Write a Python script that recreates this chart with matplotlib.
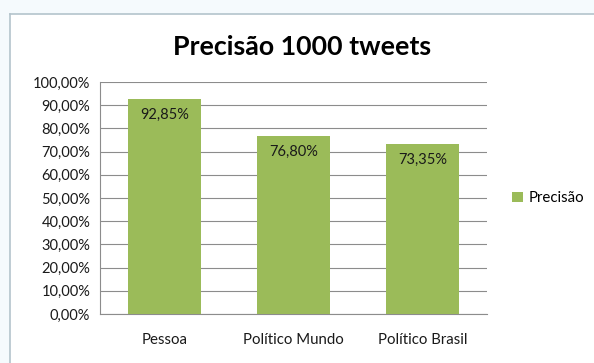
import matplotlib.pyplot as plt
from matplotlib.lines import Line2D
from matplotlib.patches import Rectangle

categorias = ["Pessoa", "Político Mundo", "Político Brasil"]
precisao = [92.85, 76.80, 73.35]
rotulos = ["92,85%", "76,80%", "73,35%"]
yticks = [0, 10, 20, 30, 40, 50, 60, 70, 80, 90, 100]

plt.rcParams['font.family'] = ['Lato', 'DejaVu Sans']
verde = "#9BBB59"

fig = plt.figure(figsize=(5.94, 3.63), dpi=100)

# moldura da planilha em volta do grafico
fig.add_artist(Rectangle((0, 1 - 14 / 363), 1, 14 / 363, transform=fig.transFigure,
                         facecolor="#f5fafd", edgecolor="none"))
fig.add_artist(Rectangle((0, 0), 10 / 594, 1, transform=fig.transFigure,
                         facecolor="#f5fafd", edgecolor="none"))
fig.add_artist(Line2D([10 / 594, 1], [1 - 14 / 363] * 2, transform=fig.transFigure,
                      color="#b4c4cc", lw=1.2))
fig.add_artist(Line2D([10 / 594] * 2, [0, 1 - 14 / 363], transform=fig.transFigure,
                      color="#b4c4cc", lw=1.2))

ax = fig.add_axes([100 / 594, 1 - 314 / 363, 387 / 594, 232 / 363])
x = range(len(categorias))
barras = ax.bar(x, precisao, width=0.57, color=verde, zorder=3, label="Precisão")

for b, v, t in zip(barras, precisao, rotulos):
    ax.text(b.get_x() + b.get_width() / 2, v - 7, t, ha="center", va="center",
            fontsize=10.5, color="#1a1a1a", zorder=4)

ax.set_xlim(-0.5, 2.5)
ax.set_ylim(0, 100)
ax.set_yticks(yticks)
ax.set_yticklabels([f"{v},00%" for v in yticks], fontsize=10.5, color="#1a1a1a")
ax.set_xticks(list(x))
ax.set_xticklabels(categorias, fontsize=10.8, color="#1a1a1a")
ax.tick_params(axis="y", length=0, pad=7)
ax.tick_params(axis="x", length=0, pad=14)
ax.grid(axis="y", color="#8c8c8c", lw=0.8, zorder=0)
for s in ["top", "right"]:
    ax.spines[s].set_visible(False)
ax.spines["left"].set_color("#8c8c8c")
ax.spines["bottom"].set_color("#8c8c8c")

fig.text(0.508, 1 - 47 / 363, "Precisão 1000 tweets", ha="center", va="center",
         fontsize=19.3, fontweight="bold")

ax.legend(loc="center left", bbox_to_anchor=(1.03, 0.5), frameon=False,
          fontsize=10.8, handlelength=0.7, handleheight=0.7, handletextpad=0.4)

fig.savefig("out.png", dpi=100)
